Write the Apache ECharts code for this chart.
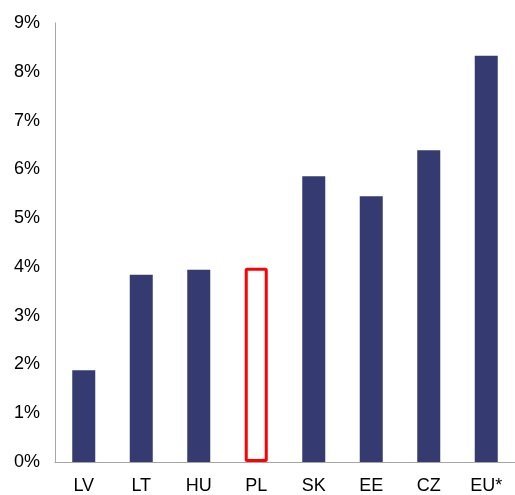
<!DOCTYPE html>
<html><head><meta charset="utf-8">
<script src="https://cdn.jsdelivr.net/npm/echarts@6/dist/echarts.min.js"></script>
<style>html,body{margin:0;padding:0;background:#fff}#c{width:515px;height:495px}</style>
</head><body><div id="c"></div>
<script>
const categories = ['LV','LT','HU','PL','SK','EE','CZ','EU*'];
const values = [1.88, 3.84, 3.94, 3.98, 5.86, 5.45, 6.39, 8.33];
const highlight = 'PL';

const chart = echarts.init(document.getElementById('c'));
chart.setOption({
  animation: false,
  grid: {left: 55, right: -5, top: 23, bottom: 31, containLabel: false},
  xAxis: {
    type: 'category', data: categories,
    axisLine: {lineStyle: {color: '#A6A6A6', width: 1}},
    axisTick: {show: false},
    axisLabel: {color: '#000', fontFamily: 'Liberation Sans', fontSize: 18, margin: 15}
  },
  yAxis: {
    type: 'value', min: 0, max: 9, interval: 1,
    axisLine: {show: true, lineStyle: {color: '#A6A6A6', width: 1}},
    axisTick: {show: false},
    splitLine: {show: false},
    axisLabel: {color: '#000', fontFamily: 'Liberation Sans', fontSize: 18, margin: 15, formatter: v => v + '%'}
  },
  series: [{
    type: 'bar', barWidth: 23,
    data: values.map((v, i) => categories[i] === highlight
      ? {value: v, itemStyle: {color: '#fff', borderColor: '#FF0000', borderWidth: 3, borderRadius: 1}}
      : {value: v, itemStyle: {color: '#353B70'}})
  }]
});
</script></body></html>
